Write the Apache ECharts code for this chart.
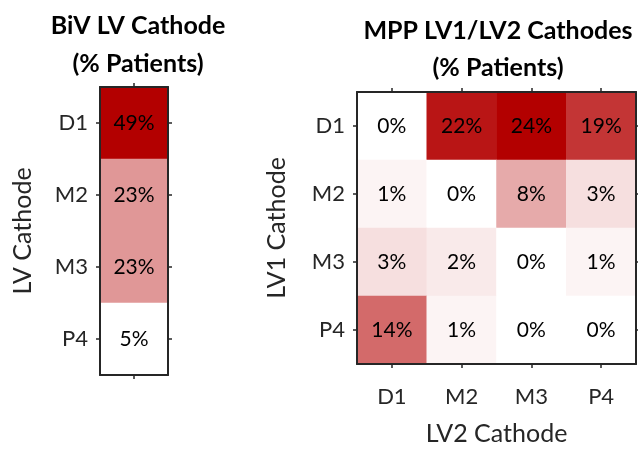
<!DOCTYPE html>
<html>
<head>
<meta charset="utf-8">
<script src="https://cdn.jsdelivr.net/npm/echarts@6/dist/echarts.min.js"></script>
<style>html,body{margin:0;padding:0;background:#fff}#c{width:638px;height:451px}</style>
</head>
<body>
<div id="c"></div>
<script>
var cathodes = ['D1', 'M2', 'M3', 'P4'];
var bivValues = [49, 23, 23, 5];            // rows D1..P4
var mppValues = [                            // rows LV1 D1..P4, cols LV2 D1..P4
  [0, 22, 24, 19],
  [1, 0, 8, 3],
  [3, 2, 0, 1],
  [14, 1, 0, 0]
];
var leftTitle = 'BiV LV Cathode\n(% Patients)';
var rightTitle = 'MPP LV1/LV2 Cathodes\n(% Patients)';

var FONT = 'Lato, "Open Sans", sans-serif';
var bivData = bivValues.map(function (v, i) { return [0, i, v]; });
var mppData = [];
mppValues.forEach(function (row, r) {
  row.forEach(function (v, c) { mppData.push([c, r, v]); });
});

function catAxis(extra) {
  var base = {
    type: 'category',
    z: 10,
    axisLine: { show: true, lineStyle: { color: '#262626', width: 2 } },
    axisTick: { show: true, alignWithLabel: true, length: 4, lineStyle: { color: '#262626', width: 1.5 } },
    axisLabel: { show: false },
    splitLine: { show: false }
  };
  return Object.assign(base, extra);
}
var tickLabel = { show: true, color: '#262626', fontSize: 22, fontFamily: FONT, margin: 12 };
var xTickLabel = Object.assign({}, tickLabel, { margin: 22 });
var nameStyle = { color: '#262626', fontSize: 25, fontFamily: FONT };

var chart = echarts.init(document.getElementById('c'));
chart.setOption({
  animation: false,
  title: [
    { text: leftTitle, left: 133, top: 2, textAlign: 'center',
      textStyle: { fontSize: 25, fontWeight: 'bold', color: '#000', fontFamily: FONT, lineHeight: 38, align: 'center' } },
    { text: rightTitle, left: 493, top: 7, textAlign: 'center',
      textStyle: { fontSize: 25, fontWeight: 'bold', color: '#000', fontFamily: FONT, lineHeight: 37, align: 'center' } }
  ],
  grid: [
    { left: 100, top: 87, width: 68, height: 288 },
    { left: 357, top: 92, width: 279, height: 280 }
  ],
  xAxis: [
    catAxis({ gridIndex: 0, data: [''], position: 'bottom' }),
    catAxis({ gridIndex: 0, data: [''], position: 'top' }),
    catAxis({ gridIndex: 1, data: cathodes, position: 'bottom', axisLabel: xTickLabel,
      name: 'LV2 Cathode', nameLocation: 'middle', nameGap: 57, nameTextStyle: nameStyle }),
    catAxis({ gridIndex: 1, data: cathodes, position: 'top' })
  ],
  yAxis: [
    catAxis({ gridIndex: 0, data: cathodes, inverse: true, position: 'left', axisLabel: tickLabel,
      name: 'LV Cathode', nameLocation: 'middle', nameGap: 65, nameTextStyle: nameStyle }),
    catAxis({ gridIndex: 0, data: cathodes, inverse: true, position: 'right' }),
    catAxis({ gridIndex: 1, data: cathodes, inverse: true, position: 'left', axisLabel: tickLabel,
      name: 'LV1 Cathode', nameLocation: 'middle', nameGap: 68, nameTextStyle: nameStyle }),
    catAxis({ gridIndex: 1, data: cathodes, inverse: true, position: 'right' })
  ],
  visualMap: [
    { show: false, seriesIndex: 0, min: 5, max: 49, dimension: 2, inRange: { color: ['#ffffff', '#b30000'] } },
    { show: false, seriesIndex: 1, min: 0, max: 24, dimension: 2, inRange: { color: ['#ffffff', '#b30000'] } }
  ],
  series: [
    { type: 'heatmap', xAxisIndex: 0, yAxisIndex: 0, data: bivData,
      label: { show: true, formatter: function (p) { return p.value[2] + '%'; }, color: '#000', fontSize: 21, fontFamily: FONT },
      itemStyle: { borderWidth: 0 }, emphasis: { disabled: true } },
    { type: 'heatmap', xAxisIndex: 2, yAxisIndex: 2, data: mppData,
      label: { show: true, formatter: function (p) { return p.value[2] + '%'; }, color: '#000', fontSize: 21, fontFamily: FONT },
      itemStyle: { borderWidth: 0 }, emphasis: { disabled: true } }
  ]
});
</script>
</body>
</html>
